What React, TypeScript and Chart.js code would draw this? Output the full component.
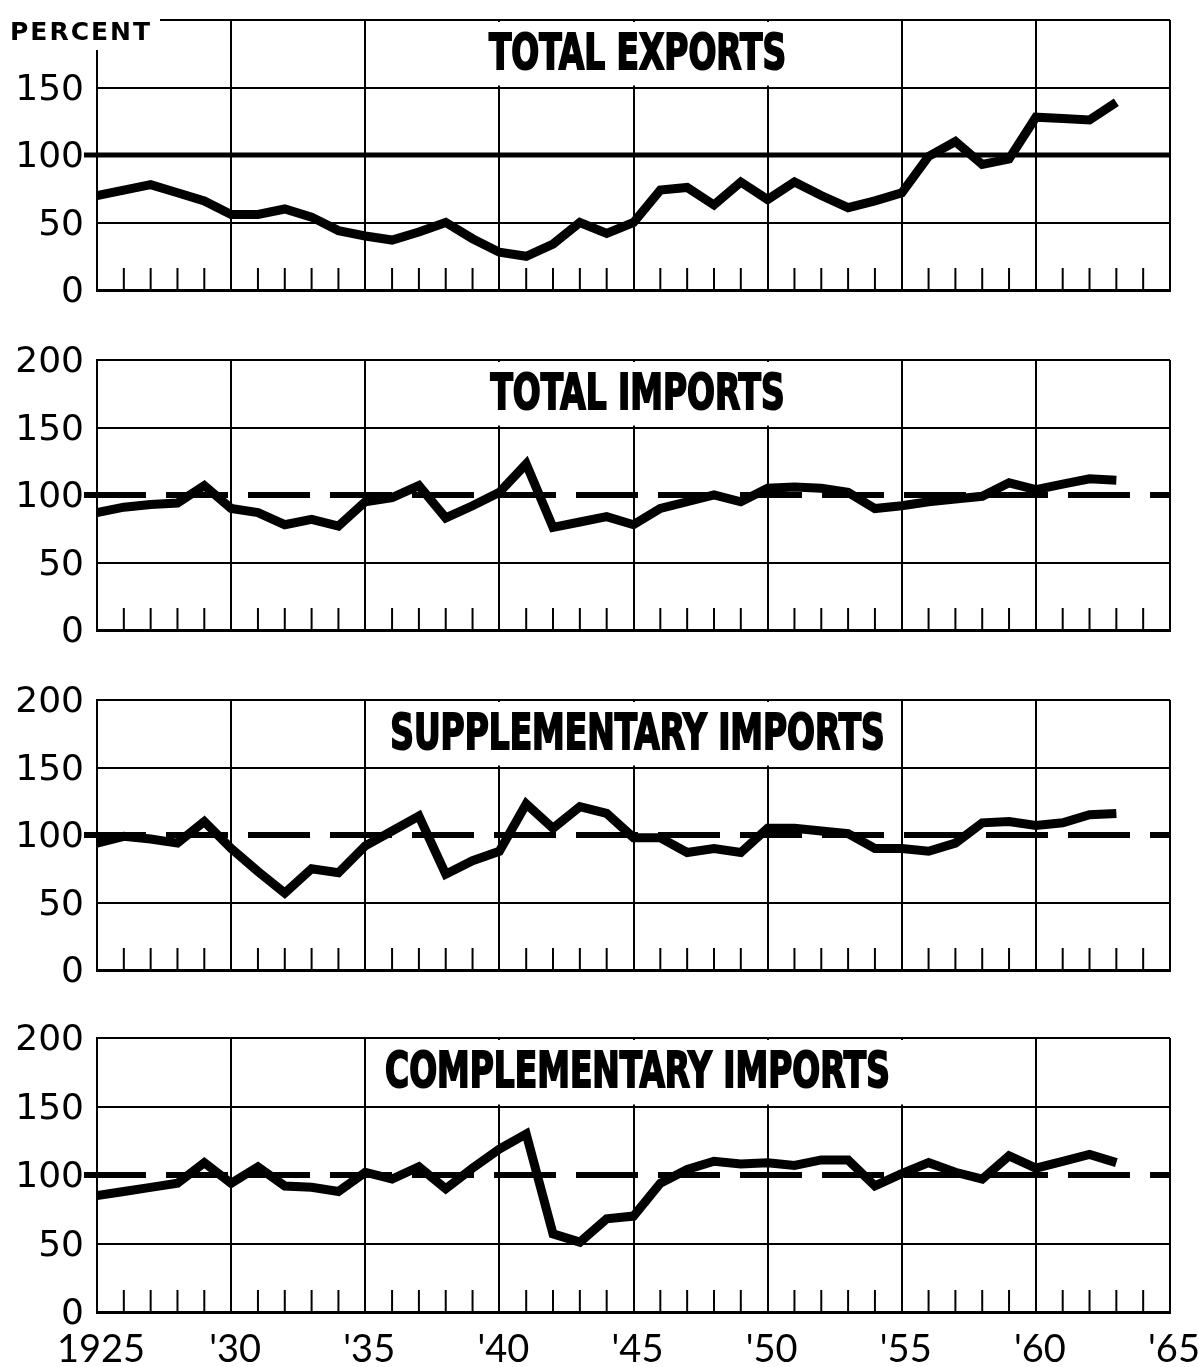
import React, { useEffect, useRef } from "react";
import { Chart, registerables } from "chart.js";
Chart.register(...registerables);

const years = [
  1925, 1926, 1927, 1928, 1929, 1930, 1931, 1932, 1933, 1934,
  1935, 1936, 1937, 1938, 1939, 1940, 1941, 1942, 1943, 1944,
  1945, 1946, 1947, 1948, 1949, 1950, 1951, 1952, 1953, 1954,
  1955, 1956, 1957, 1958, 1959, 1960, 1961, 1962, 1963,
];
const minorTickYears = [
  1926, 1927, 1928, 1929, 1931, 1932, 1933, 1934, 1936, 1937, 1938, 1939,
  1941, 1942, 1943, 1944, 1946, 1947, 1948, 1949, 1951, 1952, 1953, 1954,
  1956, 1957, 1958, 1959, 1961, 1962, 1963, 1964,
];
const xTickYears = [1925, 1930, 1935, 1940, 1945, 1950, 1955, 1960, 1965];
const xTickLabels = ["1925", "'30", "'35", "'40", "'45", "'50", "'55", "'60", "'65"];
const yTickValues = [0, 50, 100, 150, 200];

const totalExports = [
  70, 74, 78, 72, 66, 56, 56, 60, 54, 44,
  40, 37, 43, 50, 38, 28, 25, 34, 50, 42,
  50, 74, 76, 63, 80, 67, 80, 70, 61, 66,
  72, 99, 110, 93, 97, 128, 127, 126, 139,
];
const totalImports = [
  87, 91, 93, 94, 107, 90, 87, 78, 82, 77,
  95, 98, 107, 83, 92, 102, 123, 76, 80, 84,
  78, 90, 95, 100, 95, 105, 106, 105, 102, 90,
  92, 95, 97, 99, 109, 104, 108, 112, 111,
];
const supplementaryImports = [
  94, 99, 97, 94, 110, 90, 73, 57, 75, 72,
  92, 103, 114, 71, 81, 88, 123, 105, 121, 116,
  98, 98, 87, 90, 87, 105, 105, 103, 101, 90,
  90, 88, 94, 109, 110, 107, 109, 115, 116,
];
const complementaryImports = [
  85, 88, 91, 94, 109, 94, 106, 92, 91, 88,
  102, 97, 106, 90, 105, 119, 130, 57, 51, 68,
  70, 94, 104, 110, 108, 109, 107, 111, 111, 92,
  101, 109, 102, 97, 114, 105, 110, 115, 109,
];

const titles = [
  "TOTAL EXPORTS",
  "TOTAL IMPORTS",
  "SUPPLEMENTARY IMPORTS",
  "COMPLEMENTARY IMPORTS",
];
const seriesList = [totalExports, totalImports, supplementaryImports, complementaryImports];

const Y_FONT = "36px 'DejaVu Sans', sans-serif";
const X_FONT = "38px 'Lato', 'DejaVu Sans', sans-serif";
const TITLE_FONT = "bold 50px 'Liberation Sans Narrow', 'DejaVu Sans Condensed', 'DejaVu Sans', sans-serif";
const CONDENSE = 0.73;

function Panel({ index }: { index: number }) {
  const ref = useRef<HTMLCanvasElement>(null);
  const isFirst = index === 0;
  const isLast = index === 3;
  const h = isLast ? 347 : 340;
  const values = seriesList[index];
  const title = titles[index];

  useEffect(() => {
    const canvas = ref.current!;
    const overlay = {
      id: "overlay",
      beforeDatasetsDraw(chart: any) {
        const ctx = chart.ctx as CanvasRenderingContext2D;
        const ca = chart.chartArea;
        const xs = chart.scales.x;
        const ys = chart.scales.y;
        ctx.save();
        // reference 100 line
        ctx.strokeStyle = "#000";
        ctx.lineWidth = isFirst ? 5 : 6;
        if (!isFirst) ctx.setLineDash([62, 20]);
        const y100 = ys.getPixelForValue(100);
        ctx.beginPath();
        ctx.moveTo(84, y100);
        ctx.lineTo(ca.right, y100);
        ctx.stroke();
        ctx.setLineDash([]);
        // minor year ticks
        ctx.lineWidth = 2;
        for (const yr of minorTickYears) {
          const px = xs.getPixelForValue(yr);
          ctx.beginPath();
          ctx.moveTo(px, ca.bottom);
          ctx.lineTo(px, ca.bottom - 22);
          ctx.stroke();
        }
        // title box
        ctx.font = TITLE_FONT;
        const w = ctx.measureText(title).width * CONDENSE;
        const y200 = ys.getPixelForValue(200);
        const y150 = ys.getPixelForValue(150);
        const cx = (ca.left + ca.right) / 2 + 4;
        const cy = (y200 + y150) / 2;
        ctx.fillStyle = "#fff";
        ctx.fillRect(cx - w / 2 - 14, y200 + 2, w + 28, y150 - y200 - 4);
        ctx.save();
        ctx.translate(cx, cy + 2);
        ctx.scale(CONDENSE, 1);
        ctx.fillStyle = "#000";
        ctx.strokeStyle = "#000";
        ctx.lineWidth = 2;
        ctx.textAlign = "center";
        ctx.textBaseline = "middle";
        ctx.fillText(title, 0, 0);
        ctx.strokeText(title, 0, 0);
        ctx.restore();
        // PERCENT label
        if (isFirst) {
          ctx.fillStyle = "#fff";
          ctx.fillRect(0, 0, 160, ca.top + 30);
          ctx.fillStyle = "#000";
          ctx.font = "bold 25px 'DejaVu Sans', sans-serif";
          (ctx as any).letterSpacing = "2px";
          ctx.textAlign = "left";
          ctx.textBaseline = "alphabetic";
          ctx.fillText("PERCENT", 10, 40);
          (ctx as any).letterSpacing = "0px";
        }
        // y labels
        ctx.fillStyle = "#000";
        ctx.font = Y_FONT;
        ctx.textAlign = "right";
        ctx.textBaseline = "alphabetic";
        for (const v of yTickValues) {
          if (isFirst && v === 200) continue;
          ctx.fillText(String(v), 84, ys.getPixelForValue(v) + 12);
        }
        // x labels
        if (isLast) {
          ctx.font = X_FONT;
          ctx.textAlign = "center";
          ctx.textBaseline = "alphabetic";
          xTickYears.forEach((yr, i) => {
            ctx.fillText(xTickLabels[i], xs.getPixelForValue(yr) + 4, ca.bottom + 50);
          });
        }
        ctx.restore();
      },
    };

    const chart = new Chart(canvas, {
      type: "line",
      data: {
        datasets: [
          {
            data: years.map((yr, i) => ({ x: yr, y: values[i] })),
            borderColor: "#000",
            borderWidth: 9,
            pointRadius: 0,
            tension: 0,
            fill: false,
            borderJoinStyle: "miter",
            borderCapStyle: "butt",
          },
        ],
      },
      options: {
        responsive: false,
        animation: false,
        devicePixelRatio: 1,
        layout: { padding: { top: isLast ? 18 : 20, right: 29, left: 0, bottom: 0 } },
        plugins: { legend: { display: false }, tooltip: { enabled: false } },
        scales: {
          x: {
            type: "linear",
            min: 1925,
            max: 1965,
            afterBuildTicks: (s: any) => {
              s.ticks = xTickYears.map((v) => ({ value: v }));
            },
            ticks: { display: false },
            grid: { color: "#000", lineWidth: 2, drawTicks: false },
            border: { color: "#000", width: 3 },
            afterFit: (s: any) => {
              s.height = isLast ? 55 : 50;
            },
          },
          y: {
            min: 0,
            max: 200,
            afterBuildTicks: (s: any) => {
              s.ticks = yTickValues.map((v) => ({ value: v }));
            },
            ticks: { display: false },
            grid: {
              color: (c: any) => (c.tick && c.tick.value === 100 ? "rgba(0,0,0,0)" : "#000"),
              lineWidth: 2,
              drawTicks: false,
            },
            border: { color: "#000", width: 2 },
            afterFit: (s: any) => {
              s.width = 97;
            },
          },
        },
      } as any,
      plugins: [overlay],
    });
    return () => chart.destroy();
  }, []);

  return (
    <canvas
      ref={ref}
      width={1199}
      height={h}
      style={{ position: "absolute", left: 0, top: index * 340, width: 1199, height: h }}
    />
  );
}

export default function App() {
  return (
    <div style={{ position: "absolute", left: 0, top: 0, width: 1199, height: 1367, background: "#fff" }}>
      {[0, 1, 2, 3].map((i) => (
        <Panel key={i} index={i} />
      ))}
    </div>
  );
}
